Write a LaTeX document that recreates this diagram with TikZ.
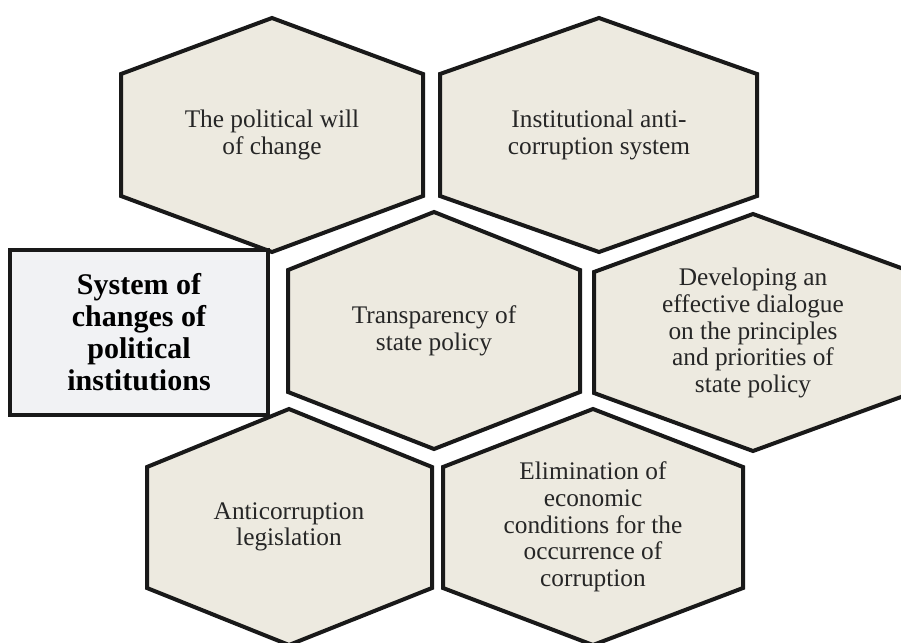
\documentclass[tikz,border=0pt]{standalone}
\usepackage{fontspec}
\setmainfont{Liberation Serif}
\usetikzlibrary{positioning}

\definecolor{hexfill}{HTML}{EDEAE0}
\definecolor{boxfill}{HTML}{F1F2F4}

\begin{document}
\begin{tikzpicture}[x=0.75pt, y=-0.75pt,
    hexcell/.style = {draw=black!90, fill=hexfill, line width=3pt, line join=miter},
    hextext/.style = {align=center, text=black!85, font=\fontsize{19}{20}\selectfont},
    mainbox/.style = {draw=black!90, fill=boxfill, line width=3.5pt, align=center,
                      minimum width=258*0.75pt, minimum height=165*0.75pt,
                      font=\fontsize{22.5}{24}\selectfont\bfseries}]
    \useasboundingbox (0,0) rectangle (901,643);
    \clip (0,0) rectangle (901,643);

    % top row
    \draw [hexcell] (272,18) -- (423,74) -- (423,196) -- (272,252) -- (121,196) -- (121,74) -- cycle;
    \draw [hexcell] (599,18) -- (757,74) -- (757,196) -- (599,252) -- (440,196) -- (440,74) -- cycle;
    \node [hextext] (will) at (272,135) {The political will\\of change};
    \node [hextext] (inst) at (599,135) {Institutional anti-\\corruption system};

    % middle row
    \draw [hexcell] (434,212) -- (580,270) -- (580,392) -- (434,449) -- (288,392) -- (288,270) -- cycle;
    \draw [hexcell] (753,214) -- (912,272) -- (912,393) -- (753,451) -- (594,393) -- (594,272) -- cycle;
    \node [hextext] (transp) at (434,331) {Transparency of\\state policy};
    \node [hextext] (dialog) at (753,333) {Developing an\\effective dialogue\\on the principles\\and priorities of\\state policy};

    % bottom row
    \draw [hexcell] (289,409) -- (432,467) -- (432,588) -- (289,645) -- (147,588) -- (147,467) -- cycle;
    \draw [hexcell] (593,409) -- (743,467) -- (743,588) -- (593,645) -- (443,588) -- (443,467) -- cycle;
    \node [hextext] (legis) at (289,527) {Anticorruption\\legislation};
    \node [hextext] (econ) at (593,527) {Elimination of\\economic\\conditions for the\\occurrence of\\corruption};

    % main box
    \node [mainbox] (sys) at (139,332.5) {System of\\changes of\\political\\institutions};
\end{tikzpicture}
\end{document}
